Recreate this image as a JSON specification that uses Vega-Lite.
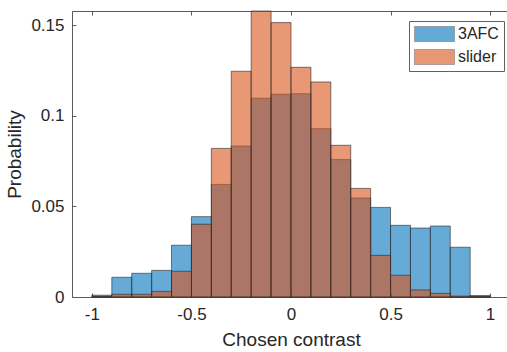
{
  "$schema": "https://vega.github.io/schema/vega-lite/v6.json",
  "width": 435,
  "height": 286,
  "autosize": "none",
  "padding": {"left": 72, "top": 11, "right": 0, "bottom": 55},
  "background": "white",
  "config": {
    "view": {"stroke": null},
    "axis": {
      "grid": false,
      "domainColor": "#5a5a5a",
      "domainWidth": 1,
      "tickColor": "#5a5a5a",
      "tickWidth": 1,
      "tickSize": -4,
      "labelFont": "Liberation Sans",
      "labelFontSize": 17,
      "labelColor": "#262626",
      "titleFont": "Liberation Sans",
      "titleFontSize": 19,
      "titleFontWeight": "normal",
      "titleColor": "#262626"
    }
  },
  "data": {
    "values": [
      {"x0": -1.0, "x1": -0.9, "series": "3AFC", "p": 0.001},
      {"x0": -0.9, "x1": -0.8, "series": "3AFC", "p": 0.0109},
      {"x0": -0.8, "x1": -0.7, "series": "3AFC", "p": 0.0131},
      {"x0": -0.7, "x1": -0.6, "series": "3AFC", "p": 0.0147},
      {"x0": -0.6, "x1": -0.5, "series": "3AFC", "p": 0.0286},
      {"x0": -0.5, "x1": -0.4, "series": "3AFC", "p": 0.0444},
      {"x0": -0.4, "x1": -0.3, "series": "3AFC", "p": 0.0622},
      {"x0": -0.3, "x1": -0.2, "series": "3AFC", "p": 0.0834},
      {"x0": -0.2, "x1": -0.1, "series": "3AFC", "p": 0.1098},
      {"x0": -0.1, "x1": 0.0, "series": "3AFC", "p": 0.112},
      {"x0": 0.0, "x1": 0.1, "series": "3AFC", "p": 0.1123},
      {"x0": 0.1, "x1": 0.2, "series": "3AFC", "p": 0.093},
      {"x0": 0.2, "x1": 0.3, "series": "3AFC", "p": 0.0759},
      {"x0": 0.3, "x1": 0.4, "series": "3AFC", "p": 0.0547},
      {"x0": 0.4, "x1": 0.5, "series": "3AFC", "p": 0.0495},
      {"x0": 0.5, "x1": 0.6, "series": "3AFC", "p": 0.0396},
      {"x0": 0.6, "x1": 0.7, "series": "3AFC", "p": 0.0381},
      {"x0": 0.7, "x1": 0.8, "series": "3AFC", "p": 0.0392},
      {"x0": 0.8, "x1": 0.9, "series": "3AFC", "p": 0.0275},
      {"x0": 0.9, "x1": 1.0, "series": "3AFC", "p": 0.0008},
      {"x0": -1.0, "x1": -0.9, "series": "slider", "p": 0.0003},
      {"x0": -0.9, "x1": -0.8, "series": "slider", "p": 0.0015},
      {"x0": -0.8, "x1": -0.7, "series": "slider", "p": 0.0015},
      {"x0": -0.7, "x1": -0.6, "series": "slider", "p": 0.0031},
      {"x0": -0.6, "x1": -0.5, "series": "slider", "p": 0.0142},
      {"x0": -0.5, "x1": -0.4, "series": "slider", "p": 0.0402},
      {"x0": -0.4, "x1": -0.3, "series": "slider", "p": 0.0821},
      {"x0": -0.3, "x1": -0.2, "series": "slider", "p": 0.1247},
      {"x0": -0.2, "x1": -0.1, "series": "slider", "p": 0.158},
      {"x0": -0.1, "x1": 0.0, "series": "slider", "p": 0.1516},
      {"x0": 0.0, "x1": 0.1, "series": "slider", "p": 0.1269},
      {"x0": 0.1, "x1": 0.2, "series": "slider", "p": 0.1188},
      {"x0": 0.2, "x1": 0.3, "series": "slider", "p": 0.0838},
      {"x0": 0.3, "x1": 0.4, "series": "slider", "p": 0.06},
      {"x0": 0.4, "x1": 0.5, "series": "slider", "p": 0.023},
      {"x0": 0.5, "x1": 0.6, "series": "slider", "p": 0.012},
      {"x0": 0.6, "x1": 0.7, "series": "slider", "p": 0.0039},
      {"x0": 0.7, "x1": 0.8, "series": "slider", "p": 0.002},
      {"x0": 0.8, "x1": 0.9, "series": "slider", "p": 0.0005},
      {"x0": 0.9, "x1": 1.0, "series": "slider", "p": 0.0003}
    ]
  },
  "layer": [
    {
      "mark": {"type": "rect", "fillOpacity": 0.6, "stroke": "#262626", "strokeWidth": 0.6},
      "encoding": {
        "x": {
          "field": "x0", "type": "quantitative",
          "scale": {"domain": [-1.1, 1.1], "range": [0, 438], "nice": false, "zero": false},
          "axis": {"values": [-1, -0.5, 0, 0.5, 1], "labelExpr": "'' + datum.value", "title": "Chosen contrast", "labelPadding": 13, "titlePadding": 8}
        },
        "x2": {"field": "x1"},
        "y": {
          "field": "p", "type": "quantitative",
          "scale": {"domain": [0, 0.158], "nice": false},
          "axis": {"values": [0, 0.05, 0.1, 0.15], "format": ".2~f", "title": "Probability", "labelPadding": 12, "titlePadding": 6}
        },
        "y2": {"datum": 0},
        "color": {
          "field": "series", "type": "nominal",
          "scale": {"domain": ["3AFC", "slider"], "range": ["#0072BD", "#D95319"]},
          "legend": {
            "orient": "none", "legendX": 337, "legendY": 10, "title": null,
            "symbolType": "M-2.667,-1H2.667V1H-2.667Z", "symbolSize": 225,
            "symbolOpacity": 0.6, "symbolStrokeColor": "#262626", "symbolStrokeWidth": 0.6,
            "symbolOffset": 12.5, "labelOffset": 15.5,
            "labelFont": "Liberation Sans", "labelFontSize": 16, "labelColor": "#262626",
            "fillColor": "white", "strokeColor": "#606060", "padding": 5, "rowPadding": 5
          }
        }
      }
    },
    {
      "mark": {"type": "rect", "opacity": 0},
      "encoding": {
        "x": {
          "field": "x0", "type": "quantitative",
          "axis": {"orient": "top", "values": [-1, -0.5, 0, 0.5, 1], "labels": false, "title": null}
        },
        "x2": {"field": "x1"}
      }
    }
  ],
  "resolve": {"axis": {"x": "independent"}}
}
